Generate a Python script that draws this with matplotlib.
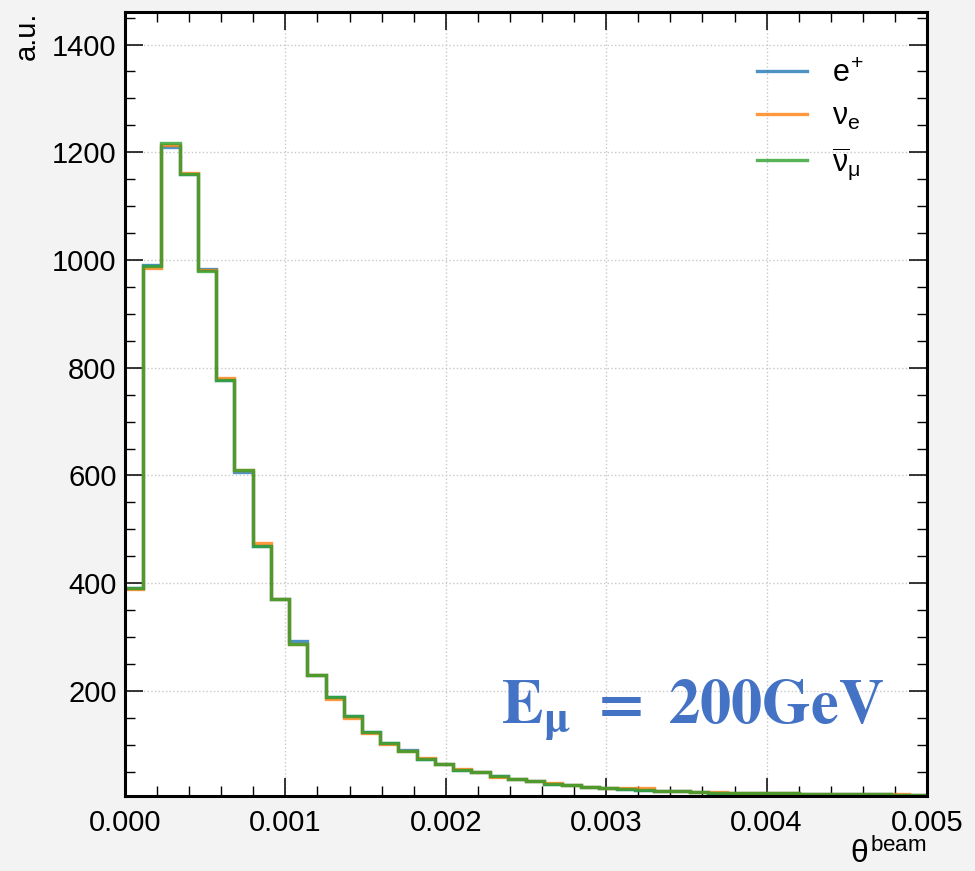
import numpy as np
import matplotlib
matplotlib.use("Agg")
import matplotlib.pyplot as plt

plt.rcParams['font.family'] = ['Liberation Sans', 'DejaVu Sans']
plt.rcParams['mathtext.fontset'] = 'custom'
plt.rcParams['mathtext.rm'] = 'Liberation Sans'
plt.rcParams['mathtext.it'] = 'Liberation Sans'
plt.rcParams['mathtext.bf'] = 'Liberation Sans:bold'

# ---- data ----
x_min, x_max, n_bins = 0.0, 0.005, 44

nubar_mu = [392, 989, 1217, 1160, 979, 777, 610, 469, 370, 288,
            229, 188, 153, 124, 104, 88, 74, 65, 54, 49,
            42, 36, 32, 28, 26, 22, 19, 18, 16, 15,
            14, 13, 11, 11, 10, 10, 10, 9, 8, 8,
            8, 8, 7, 7]
e_plus = [392, 990, 1210, 1160, 983, 777, 607, 469, 370, 293,
          229, 188, 153, 124, 104, 91, 74, 65, 54, 49,
          42, 36, 32, 28, 26, 22, 19, 18, 16, 15,
          14, 13, 11, 11, 10, 10, 10, 9, 8, 8,
          8, 8, 7, 7]
nu_e = [390, 985, 1213, 1162, 981, 781, 610, 474, 371, 288,
        229, 185, 150, 122, 102, 88, 76, 65, 56, 49,
        40, 37, 32, 29, 26, 22, 19, 20, 20, 15,
        14, 13, 13, 11, 10, 10, 10, 8, 8, 8,
        8, 8, 9, 7]

labels = [r'$e^{+}$', r'$\nu_{e}$', r'$\overline{\nu}_{\mu}$']
series = [e_plus, nu_e, nubar_mu]
colors = ['#1f77b4', '#ff7f0e', '#2ca02c']

x_ticks = [0.000, 0.001, 0.002, 0.003, 0.004, 0.005]
x_ticklabels = ['0.000', '0.001', '0.002', '0.003', '0.004', '0.005']
y_ticks = [200, 400, 600, 800, 1000, 1200, 1400]

# ---- figure ----
fig = plt.figure(figsize=(9.75, 8.71), dpi=100, facecolor='#f3f3f3')
ax = fig.add_axes([125/975, 1 - 796/871, (927-125)/975, (796-12)/871])
ax.set_facecolor('white')

edges = np.linspace(x_min, x_max, n_bins + 1)
for vals, lab, col in zip(series, labels, colors):
    ax.stairs(vals, edges, baseline=None, label=lab, color=col,
              linewidth=2.4, alpha=0.8)

ax.set_xlim(x_min, x_max)
ax.set_ylim(5, 1.2 * max(nubar_mu))

ax.set_xticks(x_ticks)
ax.set_xticklabels(x_ticklabels)
ax.set_yticks(y_ticks)
ax.set_xticks(np.arange(0, 0.00501, 0.0002), minor=True)
ax.set_yticks(np.arange(50, 1451, 50), minor=True)

ax.tick_params(which='both', direction='in', top=True, right=True,
               labelsize=21)
ax.tick_params(which='major', length=13, width=1.1)
ax.tick_params(which='minor', length=7, width=1.0)
ax.tick_params(axis='x', which='major', pad=9)
ax.tick_params(axis='y', which='major', pad=6)

for s in ax.spines.values():
    s.set_linewidth(2.2)

ax.grid(True, which='major', linestyle=':', color='#c8c8c8', linewidth=1.0)
ax.set_axisbelow(True)

ax.set_ylabel('a.u.', loc='top', fontsize=21, labelpad=8)
ax.set_xlabel(r'$\theta^{\mathrm{beam}}$', loc='right', fontsize=23, labelpad=1)

leg = ax.legend(loc='upper left', frameon=False, fontsize=22,
                handlelength=1.65, handletextpad=0.8, borderaxespad=0,
                borderpad=0, labelspacing=0.42,
                bbox_to_anchor=(0.788, 0.94))
for h in leg.legend_handles:
    h.set_linewidth(2.4)

ax.text(0.469, 0.092, r'$\mathbf{E}_{\mathbf{\mu}}\ \mathbf{=}\ \mathbf{200GeV}$',
        transform=ax.transAxes, fontsize=45, color='#4472c4',
        math_fontfamily='stix', ha='left', va='baseline')

fig.savefig('out.png', dpi=100, facecolor=fig.get_facecolor())
